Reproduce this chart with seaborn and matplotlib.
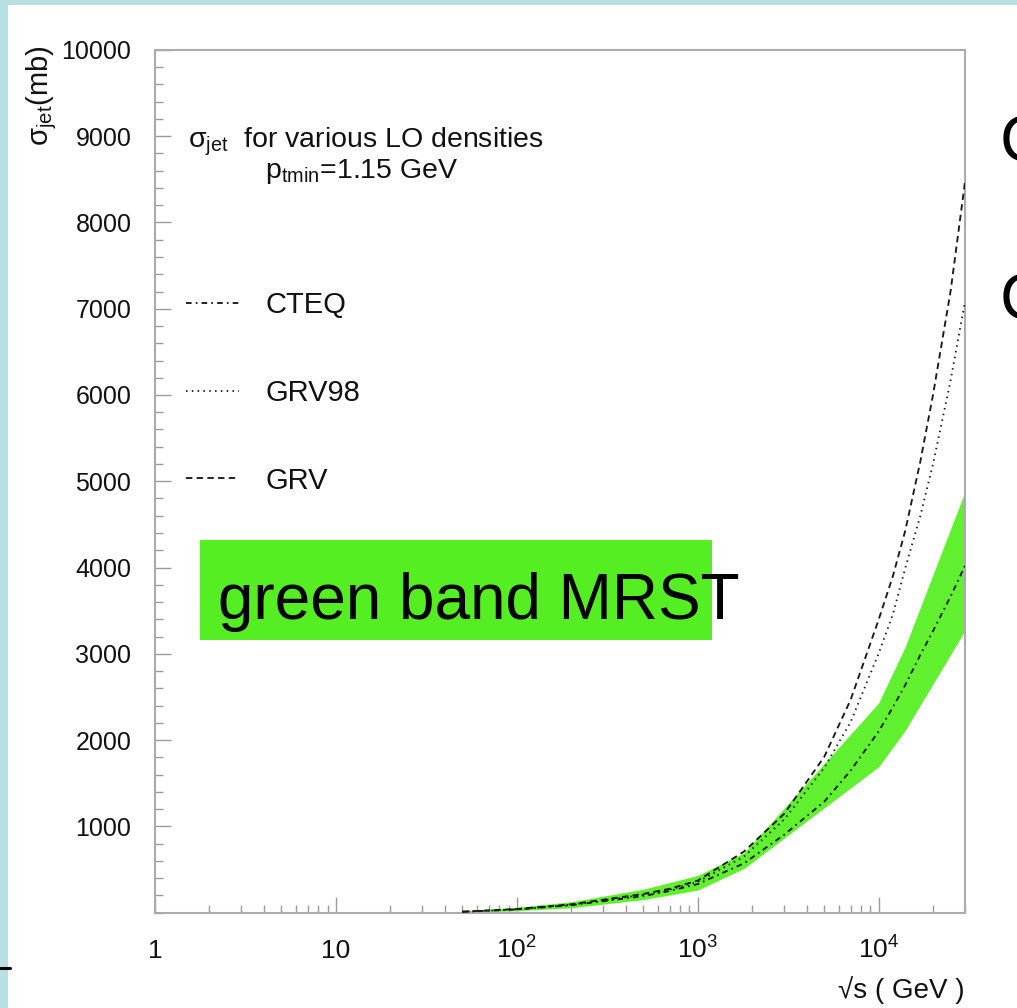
import numpy as np
import pandas as pd
import matplotlib
matplotlib.use("Agg")
import matplotlib.pyplot as plt
from matplotlib.patches import Rectangle
from matplotlib.lines import Line2D
from matplotlib.ticker import LogLocator, NullFormatter, MultipleLocator, FixedLocator
import seaborn as sns

# ---------------- data ----------------
sqrt_s = [50, 100, 200, 500, 700, 1000, 1800, 3000, 5000, 7000,
          10000, 12000, 14000, 17000, 20000, 25000, 30000]
sigma_cteq = [8, 35, 85, 190, 250, 330, 570, 901, 1284, 1646,
              2100, 2383, 2635, 2988, 3267, 3666, 4020]
sigma_grv98 = [9, 38, 90, 205, 265, 355, 649, 1077, 1677, 2209,
               3004, 3462, 3987, 4600, 5206, 6174, 7080]
sigma_grv = [10, 40, 95, 215, 275, 370, 706, 1143, 1804, 2467,
             3396, 3905, 4420, 5231, 6010, 7210, 8470]

band_s = [50, 100, 200, 500, 1000, 1800, 10000, 14000, 30000]
band_hi = [15, 60, 125, 270, 430, 690, 2430, 3080, 4880]
band_lo = [0, 20, 55, 150, 260, 510, 1690, 2110, 3270]

series_names = ["CTEQ", "GRV98", "GRV"]
x_ticks = [1, 10, 100, 1000, 10000]
x_ticklabels = ["1", "10", r"$10^{2}$", r"$10^{3}$", r"$10^{4}$"]
y_ticks = [1000, 2000, 3000, 4000, 5000, 6000, 7000, 8000, 9000, 10000]

# ---------------- style ----------------
sns.set_theme(style="white")
plt.rcParams["font.family"] = ["Liberation Sans", "DejaVu Sans"]
plt.rcParams["mathtext.fontset"] = "custom"
plt.rcParams["mathtext.rm"] = "Liberation Sans"
plt.rcParams["mathtext.it"] = "Liberation Sans:italic"
plt.rcParams["mathtext.bf"] = "Liberation Sans:bold"
plt.rcParams["mathtext.sf"] = "Liberation Sans"

W, H = 1017, 1008
fig = plt.figure(figsize=(W / 100, H / 100), dpi=100, facecolor="#b8e0e3")
# white slide area
fig.add_artist(Rectangle((8 / W, 0), 1 - 8 / W, 1 - 5 / H, transform=fig.transFigure,
                         facecolor="white", edgecolor="none", zorder=-5))

ax = fig.add_axes([155 / W, (H - 912.5) / H, 810 / W, 862.5 / H])
ax.set_facecolor("white")

# green MRST band
ax.fill_between(band_s, band_lo, band_hi, color="#60f02f", linewidth=0, zorder=1)

line_color = "#1a1a1a"
styles = {
    "CTEQ": (0, (3.0, 2.2, 0.9, 2.2)),
    "GRV98": (0, (0.8, 2.3)),
    "GRV": (0, (3.4, 2.3)),
}
values = {"CTEQ": sigma_cteq, "GRV98": sigma_grv98, "GRV": sigma_grv}
for name in series_names:
    sns.lineplot(x=sqrt_s, y=values[name], ax=ax, color=line_color, linewidth=1.35,
                 linestyle=styles[name], label=name, zorder=3, sort=True, estimator=None)

ax.set_xscale("log")
ax.set_xlim(1, 30000)
ax.set_ylim(0, 10000)
ax.xaxis.set_major_locator(FixedLocator(x_ticks))
ax.set_xticklabels(x_ticklabels)
ax.xaxis.set_minor_locator(LogLocator(base=10, subs=np.arange(2, 10), numticks=30))
ax.xaxis.set_minor_formatter(NullFormatter())
ax.set_yticks(y_ticks)
ax.set_yticklabels([str(v) for v in y_ticks])
ax.yaxis.set_minor_locator(MultipleLocator(200))
ax.set_xlabel("")
ax.set_ylabel("")

ax.tick_params(which="both", direction="in", color="#9c9c9c", top=False, right=False,
               bottom=True, left=True, labelcolor="#111111")
ax.tick_params(which="major", length=11.5, width=1.0)
ax.tick_params(which="minor", length=5.8, width=1.0)
ax.tick_params(axis="y", labelsize=18, pad=17)
ax.tick_params(axis="x", labelsize=19, pad=33)
for lbl in ax.get_xticklabels():
    lbl.set_verticalalignment("baseline")

for s in ax.spines.values():
    s.set_visible(True)
    s.set_color("#ababab")
    s.set_linewidth(1.5)

# legend
leg = ax.legend(loc="upper left", bbox_to_anchor=((186 - 155) / 810, (912.5 - 291) / 862.5),
                frameon=False, fontsize=21, handlelength=1.8, handletextpad=0.93,
                labelspacing=2.05, borderpad=0, borderaxespad=0)
for t in leg.get_texts():
    t.set_color("#111111")

# annotations inside the frame
ax.text((188 - 155) / 810, (912.5 - 147) / 862.5,
        r"$\mathrm{\sigma}_{\mathrm{jet}}$  for various LO densities",
        transform=ax.transAxes, fontsize=20.5, va="baseline", ha="left", color="#111111")
ax.text((265 - 155) / 810, (912.5 - 178) / 862.5,
        r"p$_{\mathrm{tmin}}$=1.15 GeV",
        transform=ax.transAxes, fontsize=20.5, va="baseline", ha="left", color="#111111")

# axis titles
fig.text(42 / W, 1 - 96 / H, r"$\mathrm{\sigma}_{\mathrm{jet}}$(mb)", rotation=90,
         ha="center", va="center", fontsize=21, color="#111111")
fig.text(965 / W, 1 - 990 / H, "√s ( GeV )", ha="right", va="center",
         fontsize=20, color="#111111", family=["Liberation Sans", "DejaVu Sans"])

# slide overlay: green label box
fig.add_artist(Rectangle((200 / W, 1 - 640 / H), 512 / W, 100 / H, transform=fig.transFigure,
                         facecolor="#55ee22", edgecolor="none", zorder=5))
fig.text(218 / W, 1 - 619 / H, "green band MRST", fontsize=46, ha="left",
         va="baseline", color="black", zorder=6)

# cut-off slide text on the right edge (only its left part is visible in the slide)
fig.text(1000 / W, 1 - 162 / H, "C", fontsize=47, ha="left", va="baseline", color="black")
fig.text(1000 / W, 1 - 320 / H, "C", fontsize=47, ha="left", va="baseline", color="black")
# small black mark at left edge
fig.add_artist(Line2D([0, 10 / W], [1 - 968 / H, 1 - 968 / H], transform=fig.transFigure,
                      color="black", linewidth=2.2))

fig.savefig("out.png", dpi=100, facecolor=fig.get_facecolor())
